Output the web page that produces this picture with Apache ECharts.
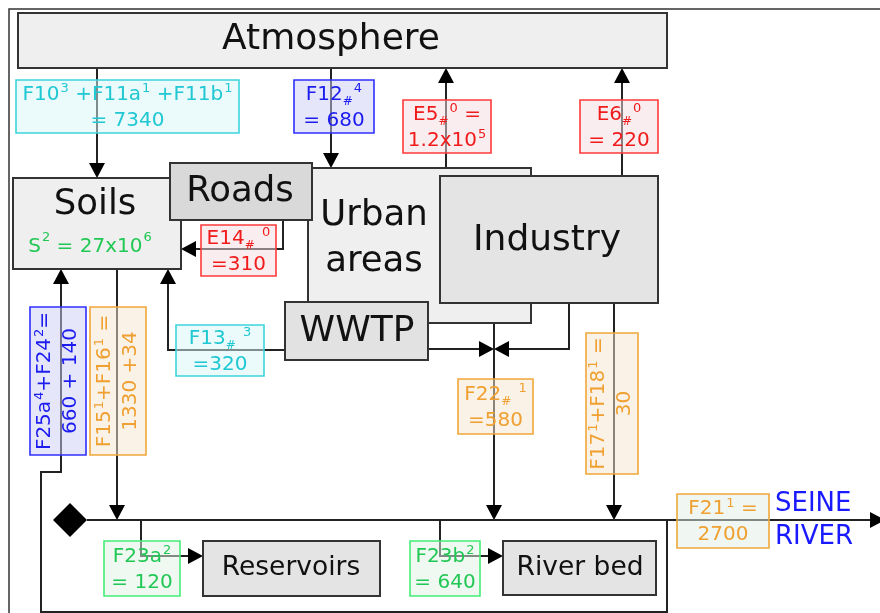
<!DOCTYPE html>
<html><head><meta charset="utf-8">
<script src="https://cdn.jsdelivr.net/npm/echarts@6.0.0/dist/echarts.min.js"></script>
<style>html,body{margin:0;padding:0;background:#fff}#c{width:880px;height:613px}</style>
</head><body><div id="c"></div>
<script>
// ---- content ----
const compartments = ['Atmosphere','Soils','Urban\nareas','Roads','Industry','WWTP','Reservoirs','River bed'];
const flowCodes  = ['F10{sup|3} +F11a{sup|1} +F11b{sup|1}','F12#{sup|4}','E5#{sup|0} =','E6#{sup|0}','E14# {sup|0}','F13# {sup|3}','F22# {sup|1}','F25a{sup|4}+F24{sup|2}=','F15{sup|1}+F16{sup|1} =','F17{sup|1}+F18{sup|1} =','F23a{sup|2}','F23b{sup|2}','F21{sup|1} ='];
const flowValues = ['= 7340','= 680','1.2x10{sup|5}','= 220','=310','=320','=580','660 + 140','1330 +34','30','= 120','= 640','2700'];
const flowKind   = ['cyan','blue','red','red','red','cyan','orange','blue','orange','orange','green','green','orangeG'];
const stockTexts = ['S{sup|2} = 27x10{sup|6}','SEINE\nRIVER'];

// ---- layout (diagram units, mapped through hidden value axes) ----
const compartmentBox = [[18,13,667,68],[13,178,181,269],[308,168,531,323],[170,163,312,220],[440,176,658,303],[285,302,428,360],[203,541,380,596],[503,541,656,595]];
const compartmentTextAt = [[331,40],[95,205],[374,239],[240,192],[547,241],[357,332],[291,568],[580,568]];
const flowBox = [[16,80,239,133],[294,80,374,133],[403,100,491,153],[580,100,658,153],[201,225,276,276],[176,325,264,376],[458,379,533,434],[30,307,86,455],[90,307,146,455],[586,333,638,474],[104,541,180,596],[410,541,480,596],[677,494,769,548]];
const flowVertical = [0,0,0,0,0,0,0,1,1,1,0,0,0];
const stockTextAt = [[90,247],[775,521]];
const linkPaths = [
  [[9,613],[9,9],[880,9]],
  [[97,68],[97,178]],
  [[331,68],[331,168]],
  [[446,168],[446,68]],
  [[622,176],[622,68]],
  [[283,220],[283,249],[181,249]],
  [[285,350],[168,350],[168,269]],
  [[667,520],[667,612],[41,612],[41,472],[61,472],[61,269]],
  [[117,269],[117,520]],
  [[428,349],[494,349]],
  [[569,303],[569,349],[494,349]],
  [[494,323],[494,520]],
  [[614,303],[614,520]],
  [[87,520],[885,520]],
  [[141,520],[141,556],[203,556]],
  [[440,520],[440,556],[503,556]]
];
const linkArrow = [0,1,1,1,1,1,1,1,1,1,1,1,1,1,1,1];
const junctions = [[70,520]];

// ---- styles ----
const FONT = '"DejaVu Sans", "Liberation Sans", sans-serif';
const compartmentFont = [36,35.5,35.5,35.5,36,36,26.5,26.5];
const compartmentFill = ['#efefef','#efefef','#efefef','#d9d9d9','#e4e4e4','#e2e2e2','#e4e4e4','#e4e4e4'];
const palette = {
  cyan:   {text:'#1fc8d3', stroke:'#3dd5de', fill:'rgba(215,245,248,0.5)'},
  blue:   {text:'#1c1cf0', stroke:'#3030ff', fill:'rgba(205,205,245,0.5)'},
  red:    {text:'#f01c1c', stroke:'#ff3a3a', fill:'rgba(245,220,225,0.5)'},
  orange: {text:'#f0a030', stroke:'#f0a83a', fill:'rgba(245,230,205,0.5)'},
  orangeG:{text:'#f0a030', stroke:'#f0a83a', fill:'rgba(225,240,232,0.5)'},
  green:  {text:'#22c855', stroke:'#44ee77', fill:'rgba(225,242,230,0.5)'}
};
const stockColor = ['#22c855','#1a1aff'];
const stockFont = [20,26];
const stockAlign = ['center','left'];

function richify(s){ return s.replace(/#/g,'{sub|#}'); }
function idx(arr){ return arr.map((_,i)=>[i,i]); }
function richStyles(color, lh){
  return {
    sub:{fontSize:12, fontFamily:FONT, fill:color, verticalAlign:'bottom', lineHeight:lh},
    sup:{fontSize:13, fontFamily:FONT, fill:color, verticalAlign:'top', lineHeight:lh, padding:[1,0,0,1]}
  };
}

const chart = echarts.init(document.getElementById('c'), null, {renderer:'canvas'});
chart.setOption({
  animation:false,
  grid:{left:0,right:0,top:0,bottom:0,containLabel:false},
  xAxis:{type:'value',min:0,max:880,show:false},
  yAxis:{type:'value',min:0,max:613,inverse:true,show:false},
  series:[
    { // connectors
      type:'custom', z:1, data: idx(linkPaths),
      renderItem:(params, api)=>{
        const i = params.dataIndex;
        const pts = linkPaths[i].map(p=>api.coord(p));
        if(!linkArrow[i]){
          return {type:'polyline', shape:{points:pts}, style:{stroke:'#333', lineWidth:1.5, fill:null}};
        }
        const n = pts.length, e = pts[n-1], s = pts[n-2];
        const len = Math.hypot(e[0]-s[0], e[1]-s[1]);
        const ux=(e[0]-s[0])/len, uy=(e[1]-s[1])/len, L=15, W=8;
        const b=[e[0]-ux*L, e[1]-uy*L];
        const head=[e,[b[0]-uy*W,b[1]+ux*W],[b[0]+uy*W,b[1]-ux*W]];
        const line = pts.slice(0,n-1).concat([b]);
        return {type:'group', children:[
          {type:'polyline', shape:{points:line}, style:{stroke:'#222', lineWidth:2, fill:null}},
          {type:'polygon', shape:{points:head}, style:{fill:'#000'}}
        ]};
      }
    },
    { // junction diamond
      type:'custom', z:2, data: idx(junctions),
      renderItem:(params, api)=>{
        const c = api.coord(junctions[params.dataIndex]), r=17;
        return {type:'polygon', shape:{points:[[c[0]-r,c[1]],[c[0],c[1]-r],[c[0]+r,c[1]],[c[0],c[1]+r]]}, style:{fill:'#000'}};
      }
    },
    { // compartments
      type:'custom', z:3, data: idx(compartments),
      renderItem:(params, api)=>{
        const i = params.dataIndex, b = compartmentBox[i];
        const p0 = api.coord([b[0],b[1]]), p1 = api.coord([b[2],b[3]]);
        const t = api.coord(compartmentTextAt[i]);
        const fs = compartmentFont[i];
        return {type:'group', children:[
          {type:'rect', z2:i*2, shape:{x:p0[0],y:p0[1],width:p1[0]-p0[0],height:p1[1]-p0[1]}, style:{fill:compartmentFill[i], stroke:'#333', lineWidth:2}},
          {type:'text', z2:i*2+1, style:{text:compartments[i], x:t[0], y:t[1], fill:'#111', fontSize:fs, fontFamily:FONT, align:'center', verticalAlign:'middle', lineHeight:46}}
        ]};
      }
    },
    { // flow labels
      type:'custom', z:4, data: idx(flowCodes),
      renderItem:(params, api)=>{
        const i = params.dataIndex, b = flowBox[i], c = palette[flowKind[i]];
        const p0 = api.coord([b[0],b[1]]), p1 = api.coord([b[2],b[3]]);
        const cx=(p0[0]+p1[0])/2, cy=(p0[1]+p1[1])/2;
        const txt = richify(flowCodes[i]) + '\n' + flowValues[i];
        return {type:'group', children:[
          {type:'rect', shape:{x:p0[0],y:p0[1],width:p1[0]-p0[0],height:p1[1]-p0[1]}, style:{fill:c.fill, stroke:c.stroke, lineWidth:1.6}},
          {type:'text', x:cx, y:cy+(flowVertical[i]?0:1), rotation: flowVertical[i]?Math.PI/2:0,
           style:{text:txt, x:0, y:0, fill:c.text, fontSize:20, fontFamily:FONT, align:'center', verticalAlign:'middle', lineHeight:26,
             rich:richStyles(c.text, 26)}}
        ]};
      }
    },
    { // free texts
      type:'custom', z:5, data: idx(stockTexts),
      renderItem:(params, api)=>{
        const i = params.dataIndex, t = api.coord(stockTextAt[i]);
        return {type:'text', style:{text:stockTexts[i], x:t[0], y:t[1], fill:stockColor[i], fontSize:stockFont[i], fontFamily:FONT, align:stockAlign[i], verticalAlign:'middle', lineHeight:33,
          rich:richStyles(stockColor[i], 26)}};
      }
    }
  ]
});
</script></body></html>
